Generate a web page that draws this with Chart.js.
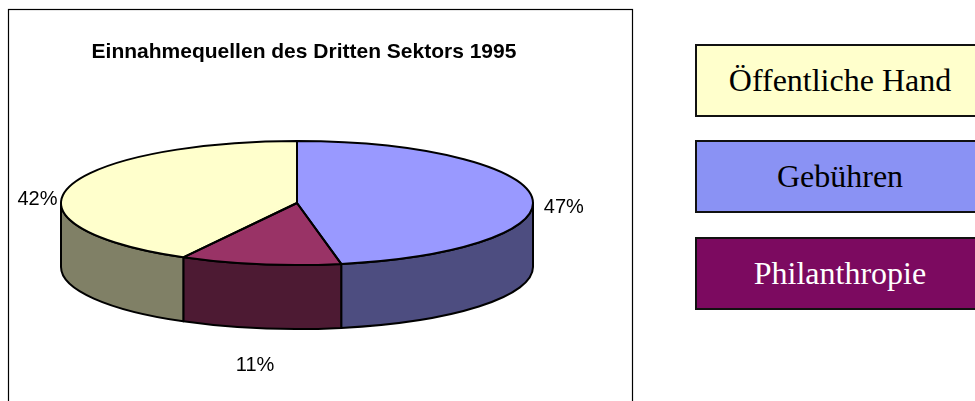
<!DOCTYPE html>
<html>
<head>
<meta charset="utf-8">
<script src="https://cdn.jsdelivr.net/npm/chart.js@4.4.0/dist/chart.umd.min.js"></script>
<style>
  body { margin: 0; background: #fff; width: 975px; height: 401px; overflow: hidden; position: relative; }
  #pie { position: absolute; left: 0; top: 0; }
  .key {
    position: absolute; left: 695px; width: 286px; height: 69px;
    border: 2px solid #111; box-sizing: content-box;
    display: flex; align-items: center; justify-content: center;
    font-family: "Liberation Serif", "Times New Roman", serif; font-size: 32px; color: #000;
  }
</style>
</head>
<body>
<canvas id="pie" width="640" height="401"></canvas>
<div id="keys"></div>
<script>
  // data
  var categories = ["Gebühren", "Philanthropie", "Öffentliche Hand"];
  var shares = [47, 11, 42];
  var topColors = ["#9999FF", "#993366", "#FFFFCC"];
  // legend boxes on the right (separate from the chart, own colours)
  var keyOrder = ["Öffentliche Hand", "Gebühren", "Philanthropie"];
  var keyColors = ["#FFFFCC", "#8A92F4", "#7C0A60"];
  var keyTextColors = ["#000", "#000", "#fff"];
  var keyTops = [44, 140, 237];

  // how the flat pie is laid on its side
  var view = { cx: 297, cy: 203, rx: 236, ry: 62, depth: 64 };

  function shade(hex, f) {
    var n = parseInt(hex.slice(1), 16);
    var r = Math.round(((n >> 16) & 255) * f);
    var g = Math.round(((n >> 8) & 255) * f);
    var b = Math.round((n & 255) * f);
    return "rgb(" + r + "," + g + "," + b + ")";
  }

  // legend html
  var keys = document.getElementById("keys");
  keyOrder.forEach(function (name, i) {
    var d = document.createElement("div");
    d.className = "key";
    d.style.top = keyTops[i] + "px";
    d.style.background = keyColors[i];
    d.style.color = keyTextColors[i];
    d.textContent = name;
    keys.appendChild(d);
  });

  var frame = {
    id: "frame",
    beforeDraw: function (chart) {
      var ctx = chart.ctx;
      ctx.save();
      ctx.strokeStyle = "#000";
      ctx.lineWidth = 1.2;
      ctx.strokeRect(8.5, 9.5, 624, 420);
      ctx.restore();
    }
  };

  var pie3d = {
    id: "pie3d",
    beforeDatasetsDraw: function (chart) {
      var ctx = chart.ctx;
      var arcs = chart.getDatasetMeta(0).data;
      var v = view;
      // outer wall, only the front half is seen
      ctx.save();
      ctx.lineWidth = 2;
      ctx.strokeStyle = "#000";
      ctx.lineJoin = "round";
      arcs.forEach(function (arc, i) {
        var a0 = Math.max(arc.startAngle, 0);
        var a1 = Math.min(arc.endAngle, Math.PI);
        if (a0 >= a1) return;
        ctx.beginPath();
        ctx.ellipse(v.cx, v.cy, v.rx, v.ry, 0, a0, a1, false);
        ctx.lineTo(v.cx + v.rx * Math.cos(a1), v.cy + v.ry * Math.sin(a1) + v.depth);
        ctx.ellipse(v.cx, v.cy + v.depth, v.rx, v.ry, 0, a1, a0, true);
        ctx.closePath();
        ctx.fillStyle = shade(topColors[i], 0.5);
        ctx.fill();
        ctx.stroke();
      });
      ctx.restore();

      // squash the chart's own circle into the top face
      var a = arcs[0];
      ctx.save();
      ctx.translate(v.cx, v.cy);
      ctx.scale(v.rx / a.outerRadius, v.ry / a.outerRadius);
      ctx.translate(-a.x, -a.y);
    },
    afterDatasetsDraw: function (chart) {
      var ctx = chart.ctx;
      ctx.restore();
      var arcs = chart.getDatasetMeta(0).data;
      var v = view;
      ctx.save();
      ctx.lineWidth = 2;
      ctx.strokeStyle = "#000";
      ctx.lineJoin = "round";
      arcs.forEach(function (arc) {
        ctx.beginPath();
        ctx.moveTo(v.cx, v.cy);
        ctx.lineTo(v.cx + v.rx * Math.cos(arc.startAngle), v.cy + v.ry * Math.sin(arc.startAngle));
        ctx.ellipse(v.cx, v.cy, v.rx, v.ry, 0, arc.startAngle, arc.endAngle, false);
        ctx.closePath();
        ctx.stroke();
      });

      // percent labels
      var total = shares.reduce(function (s, x) { return s + x; }, 0);
      ctx.fillStyle = "#000";
      ctx.font = "20px 'Liberation Sans', Arial, sans-serif";
      ctx.textAlign = "center";
      ctx.textBaseline = "middle";
      arcs.forEach(function (arc, i) {
        var m = (arc.startAngle + arc.endAngle) / 2;
        var c = Math.cos(m), s = Math.sin(m);
        var lx = v.cx + (v.rx + 32) * c;
        var ly = v.cy + 9 + 52 * s + (s > 0 ? s * 103 : 0);
        ctx.fillText(Math.round(shares[i] / total * 100) + "%", lx, ly);
      });
      ctx.restore();
    }
  };

  var ctx = document.getElementById("pie").getContext("2d");
  var chart = new Chart(ctx, {
    type: "pie",
    data: {
      labels: categories,
      datasets: [{
        data: shares,
        backgroundColor: topColors,
        borderWidth: 0,
        clip: false
      }]
    },
    options: {
      responsive: false,
      animation: false,
      layout: { padding: { top: 10, left: 8, right: 40, bottom: 10 } },
      plugins: {
        legend: { display: false },
        tooltip: { enabled: false },
        title: {
          display: true,
          text: "Einnahmequellen des Dritten Sektors 1995",
          color: "#000",
          font: { family: "'Liberation Sans', Arial, sans-serif", size: 21, weight: "bold" },
          padding: { top: 30, bottom: 10 }
        }
      }
    },
    plugins: [frame, pie3d]
  });
</script>
</body>
</html>
